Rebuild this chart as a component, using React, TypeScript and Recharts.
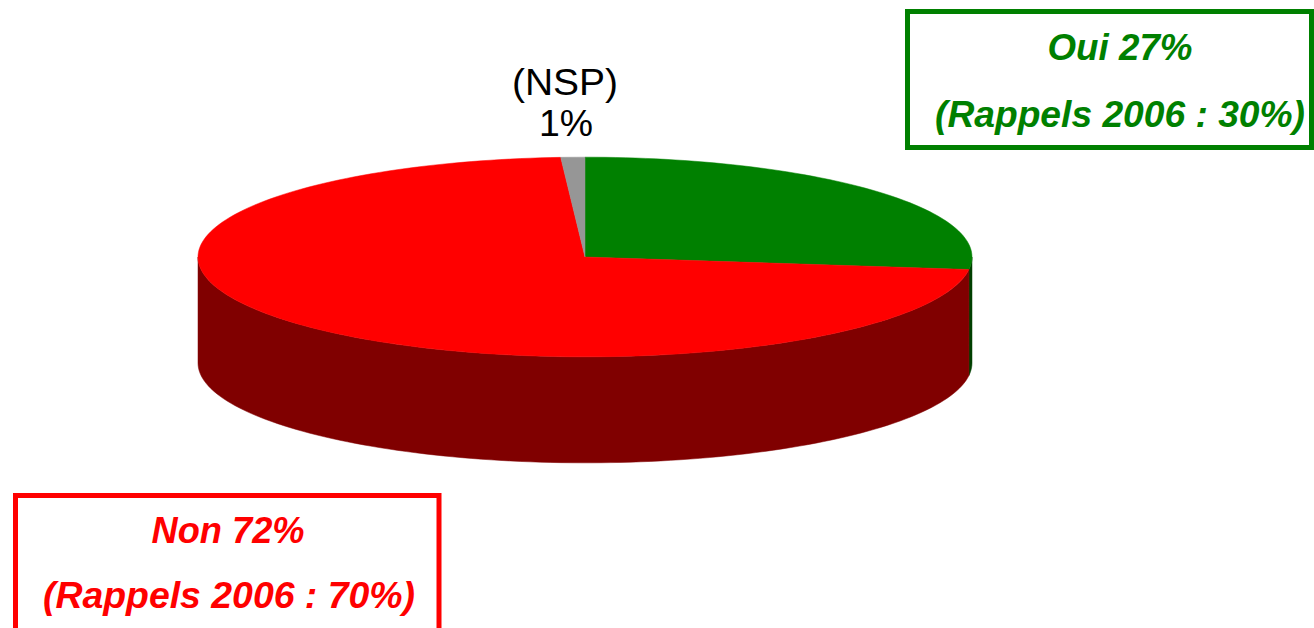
import { PieChart, Pie, Cell } from "recharts";

// ---------------------------------------------------------------------------
// Data
// ---------------------------------------------------------------------------

const sliceNames = ["Oui", "Non", "(NSP)"];
const sliceValues = [27, 72, 1];
const topColors = ["#008000", "#FF0000", "#969696"];
const sideColors = ["#004000", "#800000", "#4b4b4b"];

const ouiLines = ["Oui 27%", "(Rappels 2006 : 30%)"];
const nonLines = ["Non 72%", "(Rappels 2006 : 70%)"];
const nspLines = ["(NSP)", "1%"];

const pieData = sliceNames.map((name, i) => ({
  name,
  value: sliceValues[i],
  top: topColors[i],
  side: sideColors[i],
}));

// ---------------------------------------------------------------------------
// 3D look: squash the sector into an ellipse and add a front wall
// ---------------------------------------------------------------------------

const SQUASH = 0.258;
const DEPTH = 106;

function Sector3D(props: any) {
  const { cx, cy, outerRadius, startAngle, endAngle, payload } = props;
  const rx = outerRadius;
  const ry = outerRadius * SQUASH;
  const lo = Math.min(startAngle, endAngle);
  const hi = Math.max(startAngle, endAngle);
  const pt = (deg: number, dy = 0) => {
    const r = (deg * Math.PI) / 180;
    return [cx + rx * Math.cos(r), cy - ry * Math.sin(r) + dy];
  };
  const arc = (a: number, b: number, dy = 0) => {
    const steps = Math.max(2, Math.ceil(Math.abs(b - a) / 1.5));
    const out: number[][] = [];
    for (let i = 0; i <= steps; i++) out.push(pt(a + ((b - a) * i) / steps, dy));
    return out;
  };

  // front half of the rim lies where sin < 0
  const walls: string[] = [];
  [[-180, 0], [180, 360], [-540, -360]].forEach(([f0, f1]) => {
    const a = Math.max(lo, f0);
    const b = Math.min(hi, f1);
    if (b > a) {
      const upper = arc(a, b);
      const lower = arc(b, a, DEPTH);
      const pts = [...upper, ...lower].map((p) => `${p[0].toFixed(2)},${p[1].toFixed(2)}`);
      walls.push(`M${pts.join("L")}Z`);
    }
  });

  const top = arc(lo, hi).map((p) => `${p[0].toFixed(2)},${p[1].toFixed(2)}`);
  const topPath = `M${cx},${cy}L${top.join("L")}Z`;

  return (
    <g>
      {walls.map((d, i) => (
        <path key={i} d={d} fill={payload.side} stroke={payload.side} strokeWidth={0.5} />
      ))}
      <path d={topPath} fill={payload.top} stroke={payload.top} strokeWidth={0.5} />
    </g>
  );
}

// ---------------------------------------------------------------------------
// App
// ---------------------------------------------------------------------------

export default function App() {
  const font = "'Liberation Sans', Arial, sans-serif";
  const boxText = {
    textAnchor: "middle" as const,
    fontFamily: font,
    fontSize: 36,
    fontWeight: "bold",
    fontStyle: "italic",
    lengthAdjust: "spacingAndGlyphs" as const,
  };
  return (
    <div style={{ position: "fixed", left: 0, top: 0, width: 1314, height: 628, background: "#fff", overflow: "hidden" }}>
      <PieChart width={1314} height={628} margin={{ top: 0, right: 0, bottom: 0, left: 0 }}>
        <Pie
          data={pieData}
          dataKey="value"
          nameKey="name"
          cx={585}
          cy={257}
          outerRadius={387}
          startAngle={90}
          endAngle={-270}
          stroke="none"
          shape={Sector3D}
          isAnimationActive={false}
        >
          {pieData.map((d) => (
            <Cell key={d.name} fill={d.top} />
          ))}
        </Pie>
      </PieChart>

      <svg width={1314} height={628} style={{ position: "absolute", left: 0, top: 0, pointerEvents: "none" }}>
        {/* NSP label */}
        <text x={565} y={95} textAnchor="middle" fontFamily={font} fontSize={36} fill="#000" textLength={106} lengthAdjust="spacingAndGlyphs">
          {nspLines[0]}
        </text>
        <text x={566} y={136} textAnchor="middle" fontFamily={font} fontSize={36} fill="#000" textLength={54} lengthAdjust="spacingAndGlyphs">
          {nspLines[1]}
        </text>

        {/* Oui box */}
        <rect x={907.5} y={11.5} width={404} height={136} fill="none" stroke="#008000" strokeWidth={5} />
        <text x={1120} y={60} {...boxText} fill="#008000" textLength={145}>
          {ouiLines[0]}
        </text>
        <text x={1120} y={127} {...boxText} fill="#008000" textLength={370}>
          {ouiLines[1]}
        </text>

        {/* Non box */}
        <rect x={15.5} y={495.5} width={423.5} height={160} fill="none" stroke="#FF0000" strokeWidth={5} />
        <text x={228} y={543} {...boxText} fill="#FF0000" textLength={153}>
          {nonLines[0]}
        </text>
        <text x={229} y={608} {...boxText} fill="#FF0000" textLength={372}>
          {nonLines[1]}
        </text>
      </svg>
    </div>
  );
}
